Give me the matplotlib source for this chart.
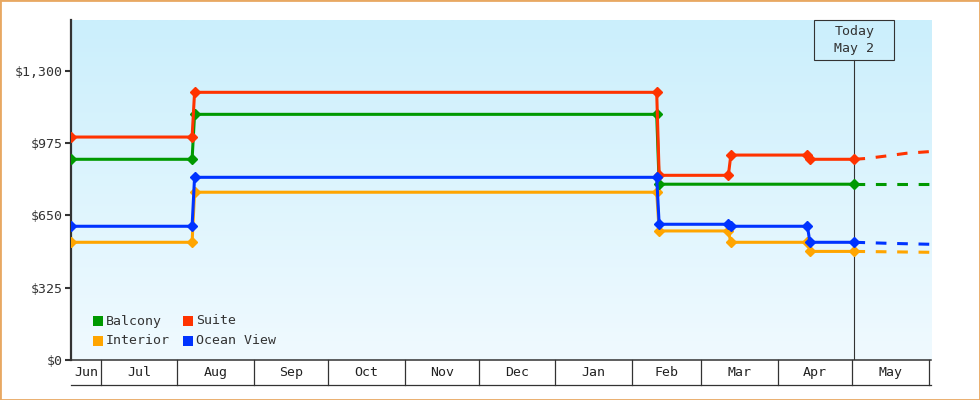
import numpy as np
import pandas as pd
import matplotlib
matplotlib.use('Agg')
import matplotlib.pyplot as plt
import matplotlib.dates as mdates
from matplotlib.patches import Rectangle
from matplotlib.colors import LinearSegmentedColormap
from matplotlib.transforms import ScaledTranslation

# price history
dates_main = ['2022-06-19', '2022-08-07', '2022-08-08', '2023-02-11', '2023-02-12',
              '2023-03-12', '2023-03-13', '2023-04-13', '2023-04-14', '2023-05-02']
balcony_dates = ['2022-06-19', '2022-08-07', '2022-08-08', '2023-02-11', '2023-02-12', '2023-05-02']
balcony_prices = [902, 902, 1104, 1104, 790, 790]
suite_prices = [1002, 1002, 1203, 1203, 830, 830, 921, 921, 902, 902]
ocean_prices = [601, 601, 821, 821, 610, 610, 601, 601, 529, 529]
interior_prices = [529, 529, 754, 754, 580, 580, 529, 529, 488, 488]

# forecast after today
balcony_fc_dates = ['2023-05-02', '2023-06-02']
balcony_fc = [790, 790]
suite_fc_dates = ['2023-05-02', '2023-05-07', '2023-05-15', '2023-05-23', '2023-06-02']
suite_fc = [902, 906, 917, 929, 937]
ocean_fc_dates = ['2023-05-02', '2023-05-17', '2023-06-02']
ocean_fc = [529, 524, 520]
interior_fc_dates = ['2023-05-02', '2023-06-02']
interior_fc = [488, 484]

yticks = [0, 325, 650, 975, 1300]
today = pd.Timestamp('2023-05-02')
xmin, xmax = pd.Timestamp('2022-06-19'), pd.Timestamp('2023-06-02')

GREEN, RED, ORANGE, BLUE = '#009900', '#ff3300', '#ffa500', '#0033ff'
DARK = '#333333'
FONT = 'DejaVu Sans Mono'
FS = 9.5

W, H = 980, 400
fig = plt.figure(figsize=(W / 100, H / 100), dpi=100)
L, R, T, B = 71, 931, 20, 360
ax = fig.add_axes([L / W, 1 - B / H, (R - L) / W, (B - T) / H])

def fpx(x, y):
    return x / W, 1 - y / H

# gradient background
cmap = LinearSegmentedColormap.from_list('bg', ['#f0faff', '#cbeffc'])
ax.imshow(np.linspace(0, 1, 256).reshape(-1, 1), cmap=cmap, origin='lower',
          extent=[0, 1, 0, 1], transform=ax.transAxes, aspect='auto', zorder=0)

series = [
    (dates_main, interior_prices, interior_fc_dates, interior_fc, ORANGE),
    (balcony_dates, balcony_prices, balcony_fc_dates, balcony_fc, GREEN),
    (dates_main, suite_prices, suite_fc_dates, suite_fc, RED),
    (dates_main, ocean_prices, ocean_fc_dates, ocean_fc, BLUE),
]
for d, p, fd, fp, c in series:
    ax.plot(pd.to_datetime(fd), fp, color=c, lw=2.2, dashes=(3.5, 3.5), zorder=3)
    ax.plot(pd.to_datetime(d), p, color=c, lw=2.2, marker='D', ms=5, zorder=4)

ax.set_xlim(xmin, xmax)
ax.set_ylim(0, 1528)

# y axis
ax.set_yticks(yticks)
ax.set_yticklabels([f'${v:,}' for v in yticks], fontfamily=FONT, fontsize=FS, color=DARK)
ax.tick_params(axis='y', direction='out', length=4, width=1.5, color=DARK, pad=2)
ax.tick_params(axis='x', length=0, labelbottom=False)
for s in ['top', 'right']:
    ax.spines[s].set_visible(False)
ax.spines['left'].set_color(DARK)
ax.spines['left'].set_linewidth(1.6)
ax.spines['bottom'].set_color(DARK)
ax.spines['bottom'].set_linewidth(1.1)

# month row under the axis
xt = ax.get_xaxis_transform()
row = 25 / (B - T)
months = pd.date_range('2022-06-01', '2023-06-01', freq='MS')
for m in months:
    nxt = m + pd.offsets.MonthBegin(1)
    if xmin < m <= xmax:
        ax.plot([m, m], [0, -row], transform=xt, color=DARK, lw=0.9, clip_on=False)
    s, e = max(m, xmin), min(nxt, xmax)
    if (e - s).days > 5:
        ax.text(s + (e - s) / 2, -row / 2, m.strftime('%b'), transform=xt, ha='center',
                va='center', fontfamily=FONT, fontsize=FS, color='#222222', clip_on=False)
ax.plot([0, 1], [-row, -row], transform=ax.transAxes, color=DARK, lw=0.9, clip_on=False)

# today marker
box_h = 40 / (B - T)
ax.plot([today, today], [0, 1 - box_h], transform=xt, color=DARK, lw=0.8, zorder=2)
tr = fig.dpi_scale_trans + ScaledTranslation(mdates.date2num(today), 1.0, xt)
ax.add_patch(Rectangle((-0.40, -0.40), 0.80, 0.40, transform=tr, fill=False,
                       edgecolor=DARK, lw=0.8, clip_on=False, zorder=5))
ax.text(today, 1 - box_h / 2, 'Today\nMay 2', transform=xt, ha='center', va='center',
        fontfamily=FONT, fontsize=FS, color=DARK, linespacing=1.45, zorder=6)

# legend
legend_items = [('Balcony', GREEN, 93, 316), ('Suite', RED, 183, 316),
                ('Interior', ORANGE, 93, 336), ('Ocean View', BLUE, 183, 336)]
for name, c, x, y in legend_items:
    x0, y0 = fpx(x, y + 10)
    fig.patches.append(Rectangle((x0, y0), 10 / W, 10 / H, transform=fig.transFigure,
                                 facecolor=c, edgecolor='none'))
    tx, ty = fpx(x + 13, y + 5)
    fig.text(tx, ty, name, ha='left', va='center', fontfamily=FONT, fontsize=FS, color=DARK)

# outer border
fig.patches.append(Rectangle((0, 0), 1, 1, transform=fig.transFigure, fill=False,
                             edgecolor='#e8a862', lw=2))

fig.savefig('out.png', dpi=100)
